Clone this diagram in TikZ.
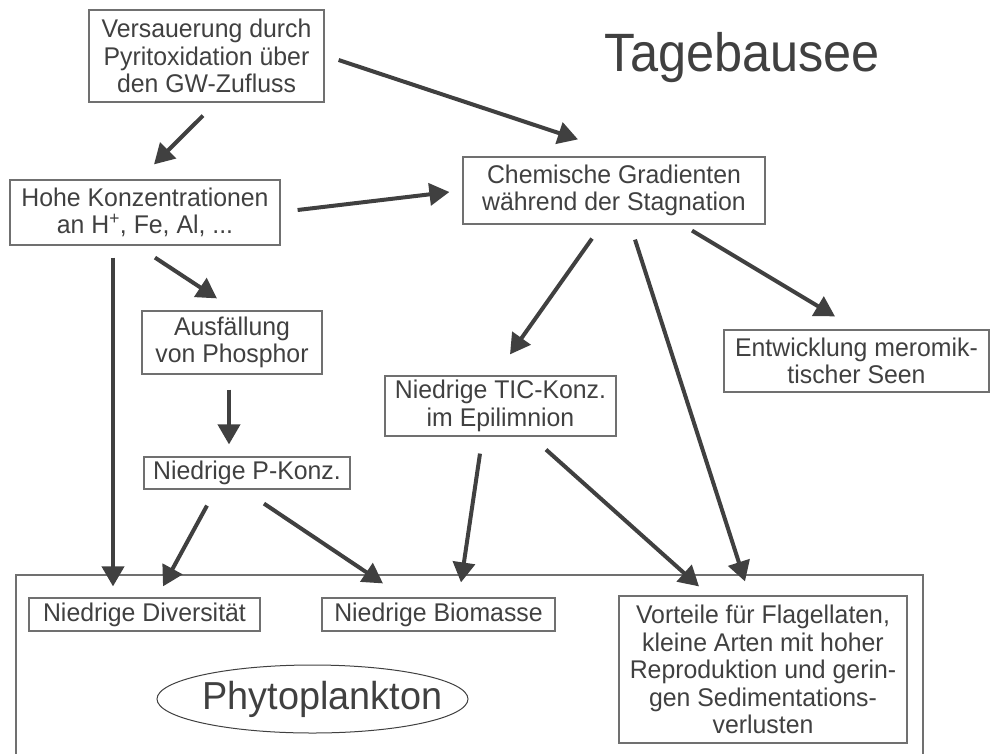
\documentclass[tikz,border=0pt]{standalone}
\usepackage{fontspec}
\setmainfont[FakeStretch=0.97]{Liberation Sans}
\newfontfamily\titlefont[FakeStretch=0.935]{Liberation Sans}
\usetikzlibrary{arrows.meta,shapes.geometric}
\definecolor{ink}{HTML}{404040}
\definecolor{frame}{HTML}{707070}
\tikzset{
  box/.style={draw=frame, line width=1.2pt, text=ink, align=center, inner sep=0pt,
    font=\fontsize{25.6}{27.5}\selectfont},
  arr/.style={draw=ink, line width=4pt, -{Triangle[length=20pt,width=22pt]}},
}
\begin{document}
\begin{tikzpicture}[x=1pt, y=-1pt]
    \useasboundingbox (0,0) rectangle (999,753);
    % phytoplankton area
    \draw[frame, line width=1.2pt] (16,760) |- (923,575) -- (923,760);

    \node[text=ink, font=\titlefont\fontsize{54}{60}\selectfont, anchor=base] (title) at (742.5,71) {Tagebausee};
    \node[box, minimum width=235, minimum height=92] (vers) at (206.5,56) {Versauerung durch\\Pyritoxidation über\\den GW-Zufluss};
    \node[box, minimum width=270, minimum height=65] (hohe) at (145,212.5) {Hohe Konzentrationen\\an H\textsuperscript{+}, Fe, Al, ...};
    \node[box, minimum width=302, minimum height=67] (chem) at (614,190.5) {Chemische Gradienten\\während der Stagnation};
    \node[box, minimum width=180, minimum height=63] (ausf) at (232,342.5) {Ausfällung\\von Phosphor};
    \node[box, minimum width=265, minimum height=62] (entw) at (856.5,361) {Entwicklung meromik-\\tischer Seen};
    \node[box, minimum width=231, minimum height=60] (tic) at (500.5,406) {Niedrige TIC-Konz.\\im Epilimnion};
    \node[box, minimum width=206, minimum height=32] (pkonz) at (247,473) {Niedrige P-Konz.};
    \node[box, minimum width=231, minimum height=33] (div) at (144.5,614.5) {Niedrige Diversität};
    \node[box, minimum width=233, minimum height=33] (bio) at (438.5,614.5) {Niedrige Biomasse};
    \node[box, minimum width=288, minimum height=147] (vort) at (763,669.5) {Vorteile für Flagellaten,\\kleine Arten mit hoher\\Reproduktion und gerin-\\gen Sedimentations-\\verlusten};
    \node[ellipse, draw=ink, line width=1pt, text=ink, inner sep=0pt, minimum width=311, minimum height=68,
      font=\fontsize{39}{44}\selectfont] (phyto) at (312.5,699) {\makebox[0pt]{\hspace*{20pt}Phytoplankton}};

    \draw[arr] ([shift={(-3.5,13)}]vers.south) -- ([shift={(9,-15)}]hohe.north);
    \draw[arr] ([shift={(14,4)}]vers.east) -- ([shift={(-36,-17)}]chem.north);
    \draw[arr] ([shift={(17,-2.5)}]hohe.east) -- ([shift={(-13,1.5)}]chem.west);
    \draw[arr] ([shift={(10,12)}]hohe.south) -- ([shift={(-15,-12)}]ausf.north);
    \draw[arr] ([shift={(-32,12)}]hohe.south) -- ([shift={(-31.5,-11)}]div.north);
    \draw[arr] ([shift={(-3,15)}]ausf.south) -- ([shift={(-18,-12)}]pkonz.north);
    \draw[arr] ([shift={(-40,16)}]pkonz.south) -- ([shift={(18.5,-11)}]div.north);
    \draw[arr] ([shift={(17,14)}]pkonz.south) -- ([shift={(-55.5,-14)}]bio.north);
    \draw[arr] ([shift={(-22,14)}]chem.south) -- ([shift={(9.5,-21)}]tic.north);
    \draw[arr] ([shift={(78,6)}]chem.south) -- ([shift={(-21.5,-13)}]entw.north);
    \draw[arr] ([shift={(21,15)}]chem.south) -- ([shift={(-18,-14)}]vort.north);
    \draw[arr] ([shift={(-20.5,17)}]tic.south) -- ([shift={(22.5,-15)}]bio.north);
    \draw[arr] ([shift={(45.5,13)}]tic.south) -- ([shift={(-64,-9)}]vort.north);
\end{tikzpicture}
\end{document}
